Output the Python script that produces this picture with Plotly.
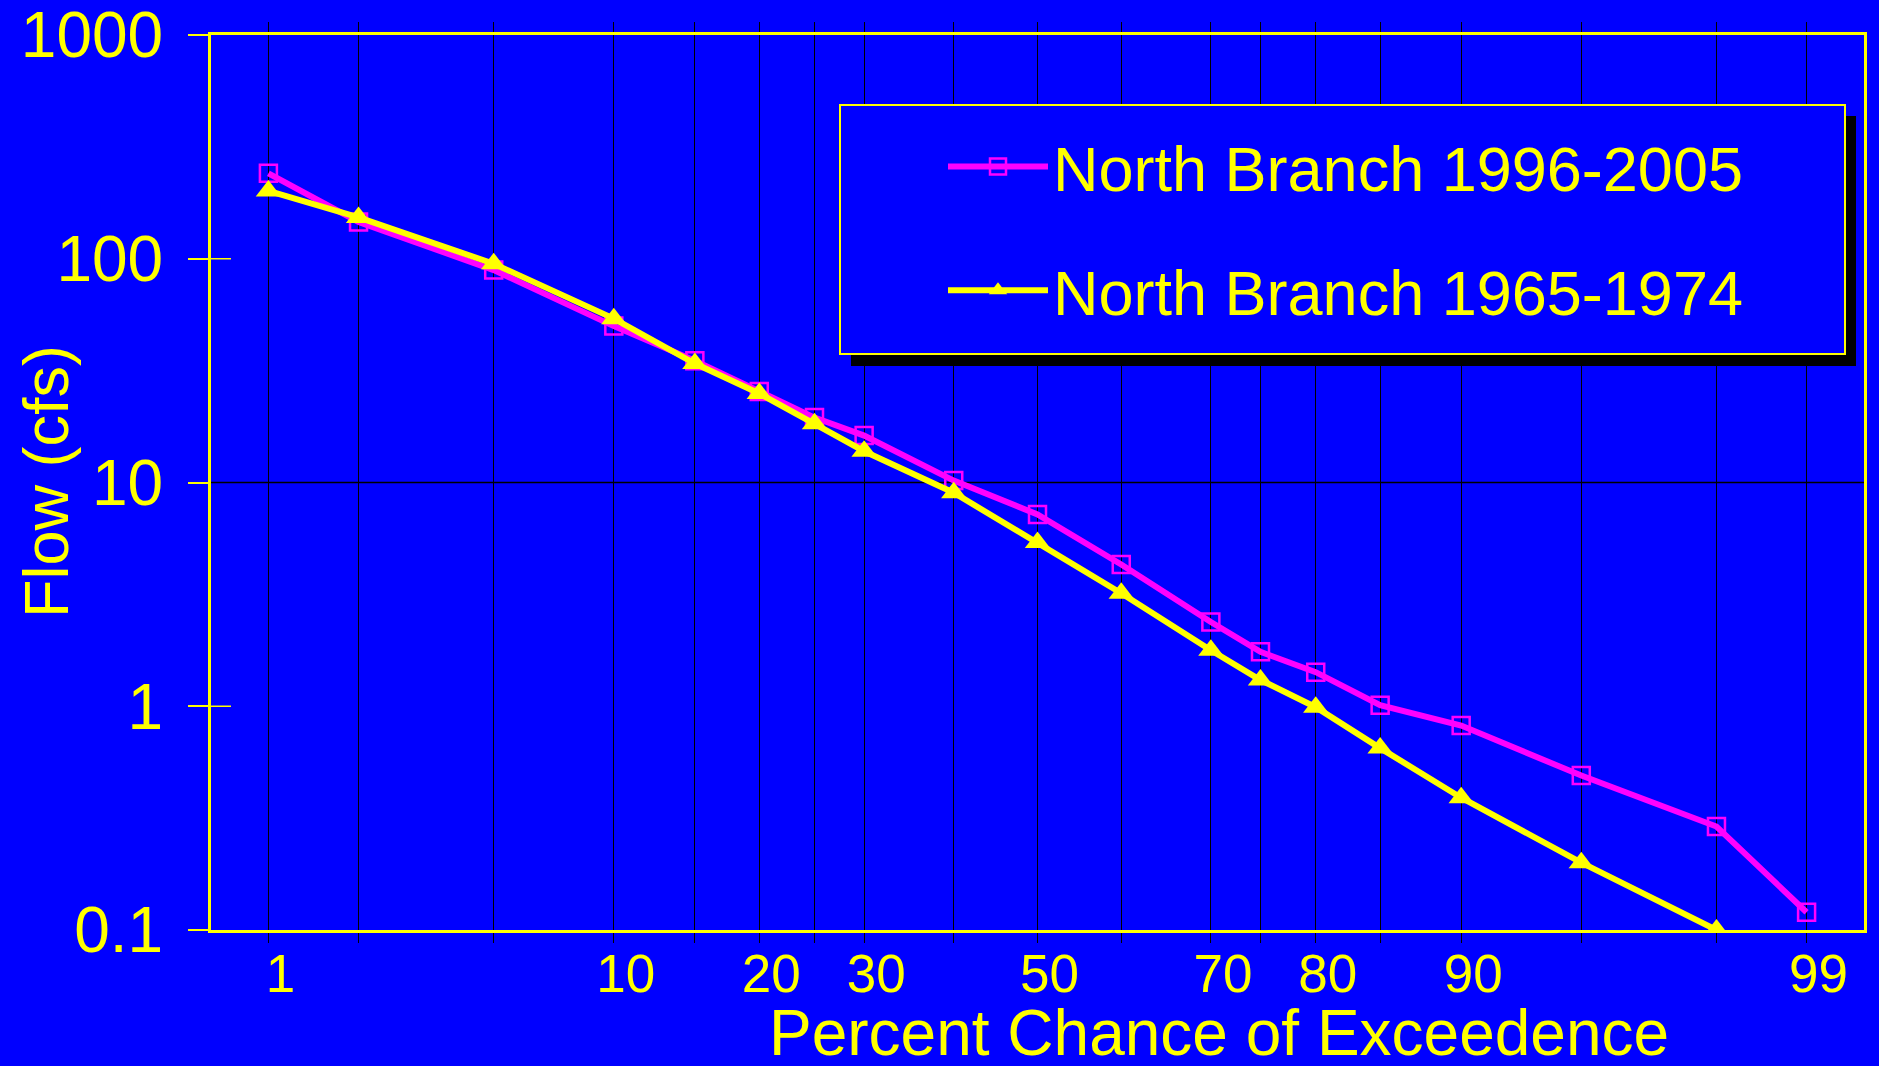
import plotly.graph_objects as go
from statistics import NormalDist

# ---------------- data ----------------
percent_all = [1, 2, 5, 10, 15, 20, 25, 30, 40, 50, 60, 70, 75, 80, 85, 90, 95, 98, 99]
labeled_percent = [1, 10, 20, 30, 50, 70, 80, 90, 99]

nb_1996_2005_pct = [1, 2, 5, 10, 15, 20, 25, 30, 40, 50, 60, 70, 75, 80, 85, 90, 95, 98, 99]
nb_1996_2005_flow = [241, 146, 89, 50, 35, 25.5, 19.5, 16.2, 10.2, 7.2, 4.3, 2.38, 1.75, 1.42, 1.01, 0.82, 0.49, 0.29, 0.12]

nb_1965_1974_pct = [1, 2, 5, 10, 15, 20, 25, 30, 40, 50, 60, 70, 75, 80, 85, 90, 95, 98]
nb_1965_1974_flow = [201, 153, 95, 54, 34, 25, 18.3, 13.8, 9.0, 5.4, 3.2, 1.78, 1.31, 0.99, 0.65, 0.39, 0.2, 0.1]

y_ticks = [0.1, 1, 10, 100, 1000]
y_ticktext = ["0.1", "1", "10", "100", "1000"]

# normal-probability scale for the x axis
nd = NormalDist()
def prob(p):
    return nd.inv_cdf(p / 100.0)

BLUE = "#0000FF"
YEL = "#FFFF00"
MAG = "#FF00FF"
FONT = "Liberation Sans, Arial, sans-serif"

fig = go.Figure()
fig.add_trace(go.Scatter(
    x=[prob(p) for p in nb_1996_2005_pct], y=nb_1996_2005_flow,
    mode="lines+markers", name="North Branch 1996-2005", legendgroup="a",
    line=dict(color=MAG, width=6),
    marker=dict(symbol="square-open", size=17, color=MAG, line=dict(color=MAG, width=2.5)),
))
fig.add_trace(go.Scatter(
    x=[prob(p) for p in nb_1965_1974_pct], y=nb_1965_1974_flow,
    mode="lines+markers", name="North Branch 1965-1974", legendgroup="b",
    line=dict(color=YEL, width=6),
    marker=dict(symbol="triangle-up", size=22, color=YEL),
))

x_tickvals = [prob(p) for p in percent_all]
x_ticktext = [str(p) if p in labeled_percent else "" for p in percent_all]

L, R, T, B = 211, 15, 35, 136
W, H = 1879, 1066
pw, ph = W - L - R, H - T - B

def px(xpix):
    return (xpix - L) / pw

def py(ypix):
    return (H - B - ypix) / ph

shapes = [
    # major horizontal grid line at 10
    dict(type="line", xref="paper", yref="y", x0=0, x1=1, y0=10, y1=10,
         line=dict(color="black", width=1.5), layer="below"),
    # inner tick marks at 100 and 1
    dict(type="line", xref="paper", yref="y", x0=0, x1=20 / pw, y0=100, y1=100,
         line=dict(color=YEL, width=1.5), layer="above"),
    dict(type="line", xref="paper", yref="y", x0=0, x1=20 / pw, y0=1, y1=1,
         line=dict(color=YEL, width=1.5), layer="above"),
    # legend shadow
    dict(type="rect", xref="paper", yref="paper", x0=px(851), x1=px(1856), y0=py(366), y1=py(116),
         fillcolor="black", line=dict(width=0), layer="above"),
    # legend box
    dict(type="rect", xref="paper", yref="paper", x0=px(840), x1=px(1845), y0=py(354), y1=py(105),
         fillcolor=BLUE, line=dict(color=YEL, width=2), layer="above"),
]

annotations = [
    dict(text="Percent Chance of Exceedence", xref="paper", yref="paper",
         x=px(1219), y=py(1033), xanchor="center", yanchor="middle", showarrow=False,
         font=dict(family=FONT, size=64, color=YEL)),
    dict(text="Flow (cfs)", xref="paper", yref="paper", textangle=-90,
         x=px(46), y=py(482), xanchor="center", yanchor="middle", showarrow=False,
         font=dict(family=FONT, size=63, color=YEL)),
]

fig.update_layout(
    width=W, height=H,
    margin=dict(l=L, r=R, t=T, b=B, autoexpand=False),
    paper_bgcolor=BLUE, plot_bgcolor=BLUE,
    font=dict(family=FONT, color=YEL),
    shapes=shapes, annotations=annotations,
    showlegend=True,
    legend=dict(
        x=px(943), y=py(119), xanchor="left", yanchor="top",
        bgcolor="rgba(0,0,0,0)", borderwidth=0,
        font=dict(family=FONT, size=63, color=YEL),
        itemwidth=100, tracegroupgap=39, traceorder="grouped",
    ),
    xaxis=dict(
        range=[-2.5, 2.5], tickmode="array", tickvals=x_tickvals, ticktext=x_ticktext,
        showgrid=True, gridcolor="black", gridwidth=1, zeroline=False,
        ticks="outside", ticklen=10, tickcolor="black", tickwidth=1,
        showline=True, linecolor=YEL, linewidth=3, mirror="ticks",
        tickfont=dict(family=FONT, size=53, color=YEL),
        ticklabelstandoff=-15, ticklabelshift=12, automargin=False,
        ticklabeloverflow="allow",
    ),
    yaxis=dict(
        type="log", range=[-1, 3], tickmode="array", tickvals=y_ticks, ticktext=y_ticktext,
        showgrid=False, zeroline=False,
        ticks="outside", ticklen=20, tickcolor=YEL, tickwidth=1.5,
        showline=True, linecolor=YEL, linewidth=3, mirror=True,
        tickfont=dict(family=FONT, size=64, color=YEL),
        ticklabelstandoff=12, automargin=False,
        ticklabeloverflow="allow",
    ),
)

fig.write_html(
    "out.html",
    config={"displayModeBar": False},
    post_script="document.body.style.margin='0';document.body.style.overflow='hidden';",
)
